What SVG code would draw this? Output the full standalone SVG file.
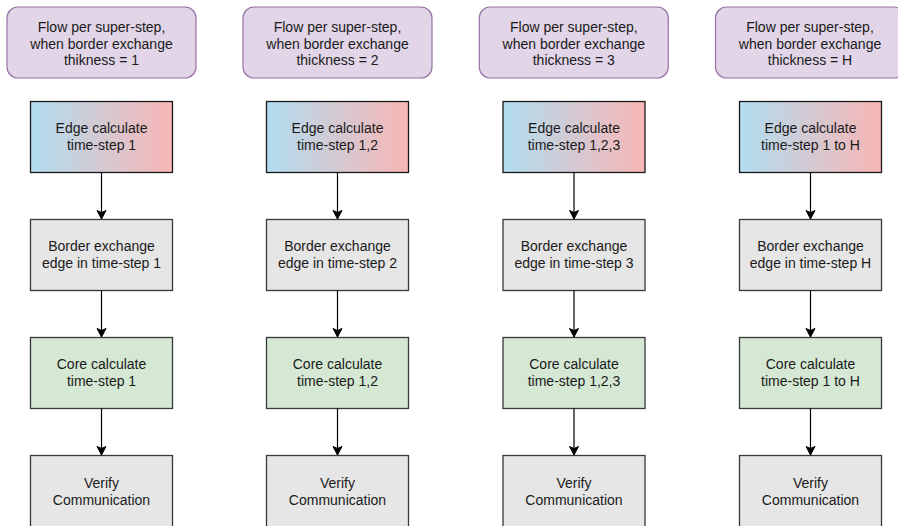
<svg xmlns="http://www.w3.org/2000/svg" width="898" height="526" viewBox="0 0 898 526">
  <style>
    text { font-family: "Liberation Sans", Arial, Helvetica, sans-serif; font-size: 14px; fill: #1a1a1a; text-anchor: middle; }
    .hdr { fill: #e1d5e7; stroke: #9673a6; stroke-width: 1.2; }
    .edge { fill: url(#edgeGrad); stroke: #1a1a1a; stroke-width: 1.3; }
    .border { fill: #e6e6e6; stroke: #36393d; stroke-width: 1.3; }
    .core { fill: #d5e8d4; stroke: #36393d; stroke-width: 1.3; }
    .verify { fill: #e6e6e6; stroke: #36393d; stroke-width: 1.3; }
    .conn { fill: none; stroke: #000; stroke-width: 1.2; marker-end: url(#arrow); }
  </style>
  <defs>
    <linearGradient id="edgeGrad" x1="0" y1="0" x2="1" y2="0">
      <stop offset="0" stop-color="#b1ddf0"/>
      <stop offset="1" stop-color="#f8b6b5"/>
    </linearGradient>
    <marker id="arrow" markerUnits="userSpaceOnUse" markerWidth="12" markerHeight="12" viewBox="0 0 12 12" refX="10" refY="6" orient="auto">
      <path d="M10,6 L1.5,1.5 L3.5,6 L1.5,10.5 Z" fill="#000" stroke="#000" stroke-width="1"/>
    </marker>
  </defs>

  <rect width="898" height="526" fill="#ffffff"/>

  <!-- column 1 -->
  <g id="hdr1">
    <rect class="hdr" x="7" y="7" width="189" height="71" rx="11"/>
    <text x="101.5" y="32">Flow per super-step,</text>
    <text x="101.5" y="48.5">when border exchange</text>
    <text x="101.5" y="65">thikness = 1</text>
  </g>
  <g id="edge1">
    <rect class="edge" x="30.5" y="101.5" width="142" height="71"/>
    <text x="101.5" y="133">Edge calculate</text>
    <text x="101.5" y="150">time-step 1</text>
  </g>
  <g id="border1">
    <rect class="border" x="30.5" y="219.5" width="142" height="71"/>
    <text x="101.5" y="251">Border exchange</text>
    <text x="101.5" y="268">edge in time-step 1</text>
  </g>
  <g id="core1">
    <rect class="core" x="30.5" y="337.5" width="142" height="71"/>
    <text x="101.5" y="369">Core calculate</text>
    <text x="101.5" y="386">time-step 1</text>
  </g>
  <g id="verify1">
    <rect class="verify" x="30.5" y="455.5" width="142" height="80"/>
    <text x="101.5" y="488">Verify</text>
    <text x="101.5" y="505">Communication</text>
  </g>

  <!-- column 2 -->
  <g id="hdr2">
    <rect class="hdr" x="243" y="7" width="189" height="71" rx="11"/>
    <text x="337.5" y="32">Flow per super-step,</text>
    <text x="337.5" y="48.5">when border exchange</text>
    <text x="337.5" y="65">thickness = 2</text>
  </g>
  <g id="edge2">
    <rect class="edge" x="266.5" y="101.5" width="142" height="71"/>
    <text x="337.5" y="133">Edge calculate</text>
    <text x="337.5" y="150">time-step 1,2</text>
  </g>
  <g id="border2">
    <rect class="border" x="266.5" y="219.5" width="142" height="71"/>
    <text x="337.5" y="251">Border exchange</text>
    <text x="337.5" y="268">edge in time-step 2</text>
  </g>
  <g id="core2">
    <rect class="core" x="266.5" y="337.5" width="142" height="71"/>
    <text x="337.5" y="369">Core calculate</text>
    <text x="337.5" y="386">time-step 1,2</text>
  </g>
  <g id="verify2">
    <rect class="verify" x="266.5" y="455.5" width="142" height="80"/>
    <text x="337.5" y="488">Verify</text>
    <text x="337.5" y="505">Communication</text>
  </g>

  <!-- column 3 -->
  <g id="hdr3">
    <rect class="hdr" x="479.3" y="7" width="189" height="71" rx="11"/>
    <text x="573.8" y="32">Flow per super-step,</text>
    <text x="573.8" y="48.5">when border exchange</text>
    <text x="573.8" y="65">thickness = 3</text>
  </g>
  <g id="edge3">
    <rect class="edge" x="503" y="101.5" width="142" height="71"/>
    <text x="574" y="133">Edge calculate</text>
    <text x="574" y="150">time-step 1,2,3</text>
  </g>
  <g id="border3">
    <rect class="border" x="503" y="219.5" width="142" height="71"/>
    <text x="574" y="251">Border exchange</text>
    <text x="574" y="268">edge in time-step 3</text>
  </g>
  <g id="core3">
    <rect class="core" x="503" y="337.5" width="142" height="71"/>
    <text x="574" y="369">Core calculate</text>
    <text x="574" y="386">time-step 1,2,3</text>
  </g>
  <g id="verify3">
    <rect class="verify" x="503" y="455.5" width="142" height="80"/>
    <text x="574" y="488">Verify</text>
    <text x="574" y="505">Communication</text>
  </g>

  <!-- column 4 -->
  <g id="hdr4">
    <rect class="hdr" x="715.5" y="7" width="189" height="71" rx="11"/>
    <text x="810" y="32">Flow per super-step,</text>
    <text x="810" y="48.5">when border exchange</text>
    <text x="810" y="65">thickness = H</text>
  </g>
  <g id="edge4">
    <rect class="edge" x="739.5" y="101.5" width="142" height="71"/>
    <text x="810.5" y="133">Edge calculate</text>
    <text x="810.5" y="150">time-step 1 to H</text>
  </g>
  <g id="border4">
    <rect class="border" x="739.5" y="219.5" width="142" height="71"/>
    <text x="810.5" y="251">Border exchange</text>
    <text x="810.5" y="268">edge in time-step H</text>
  </g>
  <g id="core4">
    <rect class="core" x="739.5" y="337.5" width="142" height="71"/>
    <text x="810.5" y="369">Core calculate</text>
    <text x="810.5" y="386">time-step 1 to H</text>
  </g>
  <g id="verify4">
    <rect class="verify" x="739.5" y="455.5" width="142" height="80"/>
    <text x="810.5" y="488">Verify</text>
    <text x="810.5" y="505">Communication</text>
  </g>

  <!-- connectors -->
  <g id="connectors">
    <path class="conn" d="M101.5,172.5 V219"/>
    <path class="conn" d="M101.5,290.5 V337"/>
    <path class="conn" d="M101.5,408.5 V455"/>
    <path class="conn" d="M337.5,172.5 V219"/>
    <path class="conn" d="M337.5,290.5 V337"/>
    <path class="conn" d="M337.5,408.5 V455"/>
    <path class="conn" d="M574,172.5 V219"/>
    <path class="conn" d="M574,290.5 V337"/>
    <path class="conn" d="M574,408.5 V455"/>
    <path class="conn" d="M810.5,172.5 V219"/>
    <path class="conn" d="M810.5,290.5 V337"/>
    <path class="conn" d="M810.5,408.5 V455"/>
  </g>
</svg>
